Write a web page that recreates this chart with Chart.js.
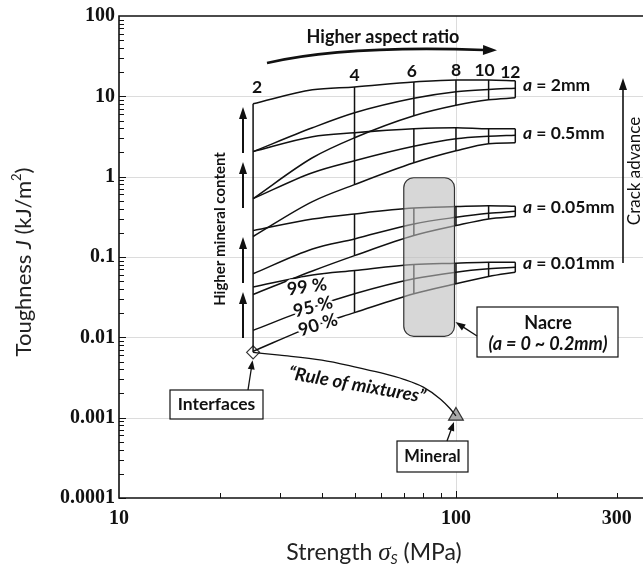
<!DOCTYPE html>
<html>
<head>
<meta charset="utf-8">
<script src="https://cdn.jsdelivr.net/npm/chart.js@4.4.0/dist/chart.umd.min.js"></script>
<style>
  html, body { margin: 0; padding: 0; background: #fff; overflow: hidden; }
  canvas { display: block; }
</style>
</head>
<body>
<canvas id="toughChart" width="643" height="567"></canvas>
<script>
// strength (MPa) where the curves were read, aspect ratio 2,3,4,6,8,10,12
const strength = [25, 37.5, 50, 75, 100, 125, 150];

// toughness J (kJ/m2) per crack length a and mineral content
const j2mm99  = [8.07, 12.05, 13.1, 15.1, 16.0, 16.0, 15.6];
const j2mm95  = [2.05, 4.06, 6.24, 9.45, 11.4, 12.2, 12.6];
const j2mm90  = [0.533, 1.72, 3.05, 5.73, 7.73, 9.06, 9.58];
const j05mm99 = [2.05, 3.14, 3.52, 3.94, 4.06, 3.94, 3.94];
const j05mm95 = [0.533, 1.12, 1.58, 2.39, 2.96, 3.18, 3.28];
const j05mm90 = [0.180, 0.489, 0.796, 1.49, 2.10, 2.57, 2.64];
const j005mm99 = [0.213, 0.297, 0.344, 0.406, 0.424, 0.436, 0.428];
const j005mm95 = [0.0618, 0.126, 0.168, 0.258, 0.312, 0.350, 0.371];
const j005mm90 = [0.0342, 0.0670, 0.104, 0.185, 0.246, 0.298, 0.319];
const j001mm99 = [0.0422, 0.0597, 0.0679, 0.0807, 0.0837, 0.0861, 0.0861];
const j001mm95 = [0.0122, 0.0236, 0.0349, 0.0536, 0.0648, 0.0713, 0.0747];
const j001mm90 = [0.0067, 0.0137, 0.0203, 0.0349, 0.0465, 0.0573, 0.0648];

// aspect ratio labels and where they sit
const aspectLabels = ['2', '4', '6', '8', '10', '12'];
const aspectStrength = [25, 50, 75, 100, 125, 150];
const bundleLabels = ['2mm', '0.5mm', '0.05mm', '0.01mm'];

// rule of mixtures between interfaces and mineral
const romStrength = [25, 30, 40, 50, 60, 70, 80, 90, 96, 100];
const romJ = [0.0065, 0.006, 0.0052, 0.0043, 0.0036, 0.003, 0.0024, 0.0017, 0.0013, 0.00105];
const interfacePoint = [25, 0.0065];
const mineralPoint = [100, 0.00105];

// nacre region
const nacreStrength = [70, 99];
const nacreJ = [0.0103, 0.97];

// axes
const xTickValues = [10, 100, 300];
const xTickLabels = ['10', '100', '300'];
const yTickValues = [0.0001, 0.001, 0.01, 0.1, 1, 10, 100];
const yTickLabels = ['0.0001', '0.001', '0.01', '0.1', '1', '10', '100'];

const lineCol = '#111';
const sans = 'Lato, "Open Sans", sans-serif';
const serif = '"Liberation Serif", "Times New Roman", serif';

const curves = [j2mm99, j2mm95, j2mm90, j05mm99, j05mm95, j05mm90,
                j005mm99, j005mm95, j005mm90, j001mm99, j001mm95, j001mm90];
const bundles = [[j2mm99, j2mm90], [j05mm99, j05mm90], [j005mm99, j005mm90], [j001mm99, j001mm90]];

var datasets = curves.map(c => ({
    data: strength.map((s, i) => ({x: s, y: c[i]})),
    borderColor: lineCol,
    borderWidth: 1.5,
    pointRadius: 0,
    cubicInterpolationMode: 'monotone'
}));

// vertical aspect-ratio lines inside each bundle
bundles.forEach(b => {
    var pts = [];
    for (let i = 2; i < strength.length; i++) {
        pts.push({x: strength[i], y: b[0][i]});
        pts.push({x: strength[i], y: b[1][i]});
        pts.push({x: strength[i], y: null});
    }
    pts.pop();
    datasets.push({data: pts, borderColor: lineCol, borderWidth: 1.5, pointRadius: 0, tension: 0, spanGaps: false});
});

// aspect ratio 2 line down to the interfaces
datasets.push({
    data: [{x: strength[0], y: j2mm99[0]}, {x: interfacePoint[0], y: interfacePoint[1]}],
    borderColor: lineCol, borderWidth: 1.5, pointRadius: 0, tension: 0
});

datasets.push({
    data: romStrength.map((s, i) => ({x: s, y: romJ[i]})),
    borderColor: lineCol, borderWidth: 1.3, pointRadius: 0, cubicInterpolationMode: 'monotone'
});

datasets.push({
    data: [{x: interfacePoint[0], y: interfacePoint[1]}],
    showLine: false, clip: false, pointStyle: 'rectRot', pointRadius: 6.5,
    backgroundColor: '#fff', borderColor: '#333', borderWidth: 1.2
});
datasets.push({
    data: [{x: mineralPoint[0], y: mineralPoint[1]}],
    showLine: false, clip: false, pointStyle: 'triangle', pointRadius: 8.5,
    backgroundColor: '#a9a9a9', borderColor: '#333', borderWidth: 1.2
});

function richText(ctx, parts, x, y, align) {
    let total = 0;
    parts.forEach(p => { ctx.font = p[1]; total += ctx.measureText(p[0]).width; });
    let cx = align === 'left' ? x : x - total / 2;
    ctx.textAlign = 'left';
    parts.forEach(p => {
        ctx.font = p[1];
        ctx.fillText(p[0], cx, y + (p[2] || 0));
        cx += ctx.measureText(p[0]).width;
    });
}

function arrowHead(ctx, x2, y2, ang, hl, hw) {
    const bx = x2 - Math.cos(ang) * hl, by = y2 - Math.sin(ang) * hl;
    ctx.beginPath();
    ctx.moveTo(x2, y2);
    ctx.lineTo(bx + Math.sin(ang) * hw, by - Math.cos(ang) * hw);
    ctx.lineTo(bx - Math.sin(ang) * hw, by + Math.cos(ang) * hw);
    ctx.closePath();
    ctx.fill();
}

function arrowLine(ctx, x1, y1, x2, y2, lw, hl, hw) {
    const ang = Math.atan2(y2 - y1, x2 - x1);
    ctx.lineWidth = lw;
    ctx.beginPath();
    ctx.moveTo(x1, y1);
    ctx.lineTo(x2 - Math.cos(ang) * hl * 0.8, y2 - Math.sin(ang) * hl * 0.8);
    ctx.stroke();
    arrowHead(ctx, x2, y2, ang, hl, hw);
}

function roundBox(ctx, x, y, w, h, r) {
    ctx.beginPath();
    ctx.moveTo(x + r, y);
    ctx.arcTo(x + w, y, x + w, y + h, r);
    ctx.arcTo(x + w, y + h, x, y + h, r);
    ctx.arcTo(x, y + h, x, y, r);
    ctx.arcTo(x, y, x + w, y, r);
    ctx.closePath();
}

function labelBox(ctx, x, y, w, h) {
    ctx.fillStyle = '#fff';
    ctx.fillRect(x, y, w, h);
    ctx.lineWidth = 1.2;
    ctx.strokeRect(x, y, w, h);
    ctx.fillStyle = lineCol;
}

const extras = {
    id: 'extras',
    beforeDatasetsDraw(chart) {
        const ctx = chart.ctx;
        const area = chart.chartArea;
        const xs = chart.scales.x, ys = chart.scales.y;
        ctx.save();
        ctx.strokeStyle = '#dcdcdc';
        ctx.lineWidth = 1;
        ctx.beginPath();
        const gx = Math.round(xs.getPixelForValue(100)) + 0.5;
        ctx.moveTo(gx, area.top);
        ctx.lineTo(gx, area.bottom);
        yTickValues.slice(1, -1).forEach(v => {
            const gy = Math.round(ys.getPixelForValue(v)) + 0.5;
            ctx.moveTo(area.left, gy);
            ctx.lineTo(area.right, gy);
        });
        ctx.stroke();
        ctx.restore();
    },
    afterDatasetsDraw(chart) {
        const ctx = chart.ctx;
        const xs = chart.scales.x, ys = chart.scales.y;
        ctx.save();

        // nacre region
        const nx1 = xs.getPixelForValue(nacreStrength[0]), nx2 = xs.getPixelForValue(nacreStrength[1]);
        const ny1 = ys.getPixelForValue(nacreJ[1]), ny2 = ys.getPixelForValue(nacreJ[0]);
        roundBox(ctx, nx1, ny1, nx2 - nx1, ny2 - ny1, 10);
        ctx.fillStyle = 'rgba(188,188,188,0.6)';
        ctx.fill();
        ctx.strokeStyle = '#333';
        ctx.lineWidth = 1.2;
        ctx.stroke();

        ctx.fillStyle = lineCol;
        ctx.strokeStyle = lineCol;
        ctx.textBaseline = 'middle';

        // aspect ratio numbers
        const aspY = [87, 75, 71, 70, 70, 72];
        const aspDx = [4, 0, -2, 0, -4, -5];
        ctx.font = 'bold 17.5px ' + sans;
        ctx.textAlign = 'center';
        aspectLabels.forEach((t, i) => {
            ctx.fillText(t, xs.getPixelForValue(aspectStrength[i]) + aspDx[i], aspY[i]);
        });

        // higher aspect ratio
        ctx.font = 'bold 18px ' + sans;
        ctx.fillText('Higher aspect ratio', 383, 37);
        ctx.lineWidth = 2.6;
        ctx.beginPath();
        ctx.moveTo(267, 63);
        ctx.quadraticCurveTo(345, 45, 484, 50);
        ctx.stroke();
        arrowHead(ctx, 497, 50.3, 0.02, 14, 5);

        // higher mineral content
        ctx.save();
        ctx.translate(220, 229);
        ctx.rotate(-Math.PI / 2);
        ctx.font = 'bold 15px ' + sans;
        ctx.fillText('Higher mineral content', 0, 0);
        ctx.restore();
        [[153, 107], [208, 162], [283, 237], [338, 292]].forEach(a => {
            arrowLine(ctx, 243, a[0], 243, a[1], 2, 12, 4);
        });

        // crack length labels
        const bundleY = [85, 133, 207, 263];
        bundleLabels.forEach((t, i) => {
            richText(ctx, [['a', 'italic bold 17.5px ' + sans], [' = ' + t, 'bold 17.5px ' + sans]], 523, bundleY[i], 'left');
        });

        // crack advance
        arrowLine(ctx, 623, 263, 623, 78, 1.6, 12, 4);
        ctx.save();
        ctx.translate(635, 171);
        ctx.rotate(-Math.PI / 2);
        ctx.font = '17px ' + sans;
        ctx.textAlign = 'center';
        ctx.fillText('Crack advance', 0, 0);
        ctx.restore();

        // mineral content percentages
        const pct = [['99 %', 307, 287, -8], ['95 %', 313, 307, -14], ['90 %', 318, 325, -17]];
        pct.forEach(p => {
            ctx.save();
            ctx.translate(p[1], p[2]);
            ctx.rotate(p[3] * Math.PI / 180);
            ctx.font = 'bold 18px ' + sans;
            ctx.textAlign = 'center';
            ctx.strokeStyle = '#fff';
            ctx.lineWidth = 5;
            ctx.lineJoin = 'round';
            ctx.strokeText(p[0], 0, 0);
            ctx.fillText(p[0], 0, 0);
            ctx.restore();
        });

        // nacre callout
        labelBox(ctx, 477, 307, 141, 50);
        ctx.textAlign = 'center';
        ctx.font = 'bold 18px ' + sans;
        ctx.fillText('Nacre', 548, 323);
        ctx.font = 'italic bold 18px ' + sans;
        ctx.fillText('(a = 0 ~ 0.2mm)', 548, 344);
        arrowLine(ctx, 477, 336, nx2 + 1, 322, 1.3, 10, 3.5);

        // interfaces callout
        const ix = xs.getPixelForValue(interfacePoint[0]), iy = ys.getPixelForValue(interfacePoint[1]);
        labelBox(ctx, 170, 390, 93, 29);
        ctx.textAlign = 'center';
        ctx.font = 'bold 17.5px ' + sans;
        ctx.fillText('Interfaces', 216.5, 404.5);
        arrowLine(ctx, 248, 390, ix - 0.5, iy + 8, 1.3, 9, 3.5);

        // mineral callout
        const mx = xs.getPixelForValue(mineralPoint[0]), my = ys.getPixelForValue(mineralPoint[1]);
        labelBox(ctx, 397, 441, 71, 31);
        ctx.textAlign = 'center';
        ctx.font = 'bold 16.5px ' + sans;
        ctx.fillText('Mineral', 432.5, 456.5);
        arrowLine(ctx, 447, 441, mx - 2, my + 6, 1.3, 9, 3.5);

        // rule of mixtures
        ctx.save();
        ctx.translate(357, 385);
        ctx.rotate(10 * Math.PI / 180);
        ctx.font = 'italic bold 18.5px ' + sans;
        ctx.textAlign = 'center';
        ctx.fillText('\u201CRule of mixtures\u201D', 0, 0);
        ctx.restore();

        ctx.restore();
    },
    afterDraw(chart) {
        const ctx = chart.ctx;
        const xs = chart.scales.x, ys = chart.scales.y;
        const area = chart.chartArea;
        ctx.save();

        // frame: top, left, bottom
        ctx.strokeStyle = '#111';
        ctx.lineWidth = 1.6;
        ctx.beginPath();
        ctx.moveTo(area.right, area.top);
        ctx.lineTo(area.left, area.top);
        ctx.lineTo(area.left, area.bottom);
        ctx.lineTo(area.right, area.bottom);
        ctx.stroke();

        // minor ticks, drawn inside
        ctx.lineWidth = 1;
        ctx.beginPath();
        for (let e = -4; e <= 1; e++) {
            for (let m = 1; m <= 9; m++) {
                const yy = Math.round(ys.getPixelForValue(m * Math.pow(10, e))) + 0.5;
                ctx.moveTo(area.left, yy);
                ctx.lineTo(area.left + (m === 1 ? 7 : 5), yy);
            }
        }
        [20, 30, 40, 50, 60, 70, 80, 90, 100, 200, 300].forEach(v => {
            const xx = Math.round(xs.getPixelForValue(v)) + 0.5;
            ctx.moveTo(xx, area.bottom);
            ctx.lineTo(xx, area.bottom - (v === 100 ? 7 : 5));
        });
        ctx.stroke();

        // axis titles
        ctx.fillStyle = '#222';
        ctx.textBaseline = 'middle';
        richText(ctx, [
            ['Strength ', '23px ' + sans],
            ['\u03C3', 'italic 25px ' + serif],
            ['S', 'italic 14px ' + sans, 6],
            [' (MPa)', '23px ' + sans]
        ], 374, 553, 'center');

        ctx.save();
        ctx.translate(24, 262);
        ctx.rotate(-Math.PI / 2);
        richText(ctx, [
            ['Toughness ', '22px ' + sans],
            ['J', 'italic 22px ' + sans],
            [' (kJ/m', '22px ' + sans],
            ['2', '13px ' + sans, -7],
            [')', '22px ' + sans]
        ], 0, 0, 'center');
        ctx.restore();

        ctx.restore();
    }
};

new Chart('toughChart', {
    type: 'line',
    data: {datasets: datasets},
    options: {
        responsive: false,
        animation: false,
        devicePixelRatio: 1,
        layout: {autoPadding: false, padding: {top: 15, right: 0, bottom: 0, left: 0}},
        plugins: {legend: {display: false}, tooltip: {enabled: false}},
        scales: {
            x: {
                type: 'logarithmic',
                min: 10,
                max: 359,
                afterBuildTicks: scale => { scale.ticks = xTickValues.map(v => ({value: v})); },
                afterFit: scale => {
                    scale.height = 69;
                    scale.paddingLeft = 0;
                    scale.paddingRight = 0;
                },
                ticks: {
                    autoSkip: false,
                    maxRotation: 0,
                    padding: 9,
                    color: '#111',
                    font: {family: serif, size: 20, weight: 'bold'},
                    callback: (v, i) => xTickLabels[i]
                },
                grid: {display: false, drawTicks: false},
                border: {display: false}
            },
            y: {
                type: 'logarithmic',
                min: 0.0001,
                max: 100,
                afterBuildTicks: scale => { scale.ticks = yTickValues.map(v => ({value: v})); },
                afterFit: scale => { scale.width = 119; },
                ticks: {
                    autoSkip: false,
                    padding: 4,
                    color: '#111',
                    font: {family: serif, size: 20, weight: 'bold'},
                    callback: (v, i) => yTickLabels[i]
                },
                grid: {display: false, drawTicks: false},
                border: {display: false}
            }
        }
    },
    plugins: [extras]
});
</script>
</body>
</html>
